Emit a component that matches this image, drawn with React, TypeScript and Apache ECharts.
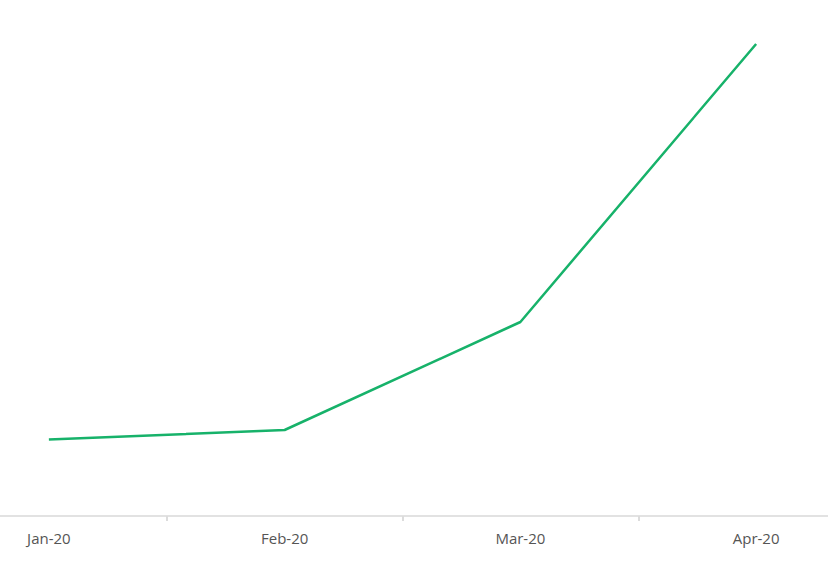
import React, { useEffect, useRef } from "react";
import * as echarts from "echarts";

const categories = ["Jan-20", "Feb-20", "Mar-20", "Apr-20"];
const values = [15.3, 17.2, 38.8, 94.4];

export default function App() {
  const ref = useRef<HTMLDivElement>(null);
  useEffect(() => {
    if (!ref.current) return;
    const chart = echarts.init(ref.current, null, { renderer: "svg" });
    chart.setOption({
      animation: false,
      backgroundColor: "#ffffff",
      grid: { left: 0, right: 0, top: 16, bottom: 52 },
      xAxis: {
        type: "category",
        data: categories,
        boundaryGap: true,
        axisLine: { show: true, lineStyle: { color: "#e2e2e2", width: 2 } },
        axisTick: { show: true, length: 5, lineStyle: { color: "#dcdcdc", width: 2 } },
        axisLabel: {
          color: "#555555",
          fontSize: 15,
          fontFamily: "'Open Sans', sans-serif",
          margin: 14,
        },
        splitLine: { show: false },
      },
      yAxis: {
        type: "value",
        min: 0,
        max: 100,
        show: false,
        splitLine: { show: false },
      },
      series: [
        {
          type: "line",
          data: values,
          symbol: "none",
          lineStyle: { color: "#17b26a", width: 2.5 },
        },
      ],
    });
    return () => chart.dispose();
  }, []);
  return (
    <div
      ref={ref}
      style={{ position: "fixed", left: -69, top: 0, width: 943, height: 568 }}
    />
  );
}
